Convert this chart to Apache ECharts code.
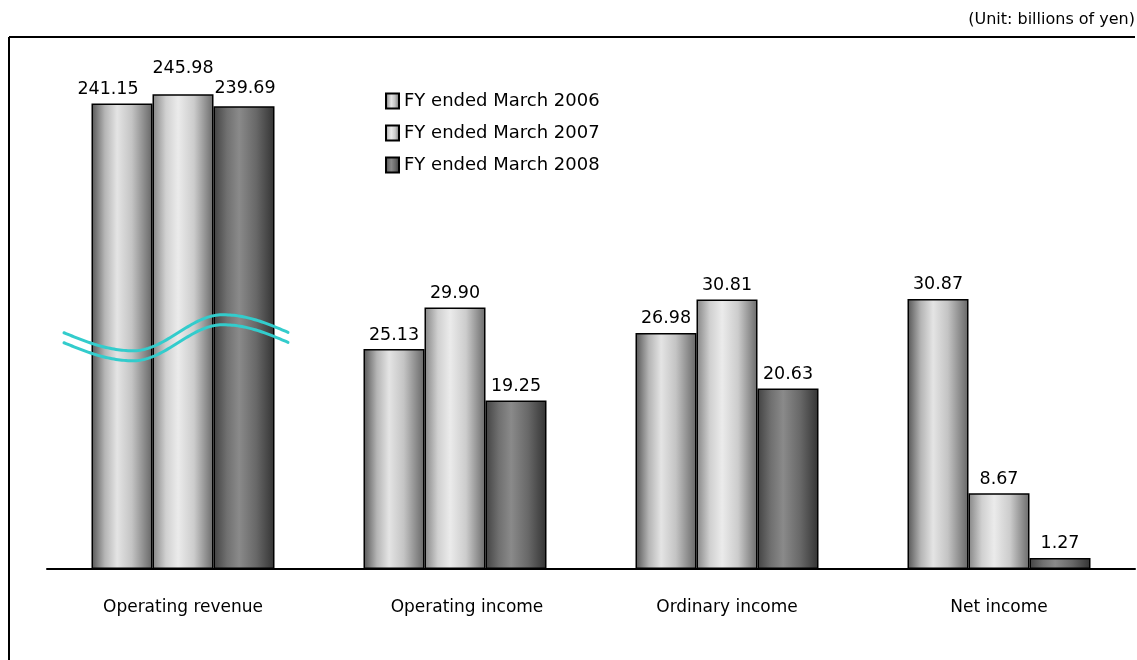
<!DOCTYPE html>
<html><head><meta charset="utf-8">
<script src="https://cdn.jsdelivr.net/npm/echarts@6/dist/echarts.min.js"></script>
<style>html,body{margin:0;padding:0;background:#fff}#c{width:1137px;height:660px}</style>
</head><body><div id="c"></div>
<script>
const categories = ['Operating revenue', 'Operating income', 'Ordinary income', 'Net income'];
const seriesNames = ['FY ended March 2006', 'FY ended March 2007', 'FY ended March 2008'];
const fy2006 = [241.15, 25.13, 26.98, 30.87];
const fy2007 = [245.98, 29.90, 30.81, 8.67];
const fy2008 = [239.69, 19.25, 20.63, 1.27];
const unitText = '(Unit: billions of yen)';

const FONT = 'DejaVu Sans';
const values = [fy2006, fy2007, fy2008];
const gradStops = [
  [['#555555', 0], ['#b5b5b5', 0.22], ['#e4e4e4', 0.42], ['#c4c4c4', 0.66], ['#666666', 1]],
  [['#858585', 0], ['#d0d0d0', 0.22], ['#ebebeb', 0.42], ['#cccccc', 0.68], ['#6a6a6a', 1]],
  [['#424242', 0], ['#707070', 0.22], ['#8a8a8a', 0.42], ['#686868', 0.7], ['#333333', 1]]
];
function grad(i) {
  return new echarts.graphic.LinearGradient(0, 0, 1, 0,
    gradStops[i].map(s => ({ offset: s[1], color: s[0] })));
}
// manual label nudges for the broken (revenue) bars, as in the source figure
const revLabelOffsets = [[-14, 0], [0, -12], [1, -4]];

const labelStyle = {
  show: true, position: 'top', distance: 5, color: '#000',
  fontFamily: FONT, fontSize: 17.5,
  formatter: p => Number(p.value).toFixed(2)
};

const series = [];
values.forEach((vals, i) => {
  const itemStyle = { color: grad(i), borderColor: '#000', borderWidth: 1.5 };
  series.push({
    type: 'bar', name: seriesNames[i], stack: 's' + i, yAxisIndex: 0,
    barWidth: 61, barGap: '0%', itemStyle, label: labelStyle,
    data: vals.map((v, k) => k === 0 ? '-' : v)
  });
  series.push({
    type: 'bar', name: seriesNames[i], stack: 's' + i, yAxisIndex: 1,
    barWidth: 61, barGap: '0%', itemStyle, label: labelStyle,
    data: vals.map((v, k) => k === 0 ? { value: v, label: { offset: revLabelOffsets[i] } } : '-')
  });
});

const chart = echarts.init(document.getElementById('c'), null, { renderer: 'canvas' });
chart.setOption({
  animation: false,
  backgroundColor: '#fff',
  title: {
    text: unitText, right: 0, top: 12, padding: [0, 2, 0, 0],
    textStyle: { fontFamily: FONT, fontSize: 16, fontWeight: 'normal', color: '#000' }
  },
  legend: {
    data: seriesNames, orient: 'vertical', left: 380, top: 86,
    icon: 'rect', itemWidth: 13, itemHeight: 15, itemGap: 12,
    textStyle: { fontFamily: FONT, fontSize: 18, color: '#000', lineHeight: 20 }
  },
  grid: { left: 47, right: 2, top: 44, bottom: 91 },
  xAxis: {
    type: 'category', data: categories,
    axisLine: { lineStyle: { color: '#000', width: 2 } },
    axisTick: { show: false },
    axisLabel: {
      color: '#000', fontFamily: FONT, fontSize: 17, margin: 30, interval: 0,
      formatter: v => v === categories[1] ? '{s|' + v + '}' : v,
      rich: { s: { fontFamily: FONT, fontSize: 17, color: '#000', padding: [0, 0, 0, 24] } }
    }
  },
  yAxis: [
    { type: 'value', min: 0, max: 60, show: false, splitLine: { show: false } },
    { type: 'value', min: 0, max: 272, show: false, splitLine: { show: false } }
  ],
  series
});

// decorative frame and the wavy "axis break" mark over the revenue bars
const cx = chart.convertToPixel({ xAxisIndex: 0 }, categories[0]);
const cy = chart.convertToPixel({ yAxisIndex: 0 }, 27);
function wave(dy) {
  const xs = cx - 119, xMin = cx - 50, xMax = cx + 40, xe = cx + 106, A = 18, c = cy + dy;
  const pts = [];
  for (let x = xs; x <= xe + 0.01; x += 2) {
    let y;
    if (x < xMin) y = c + A * Math.sin(Math.PI / 2 * (x - xs) / (xMin - xs));
    else if (x < xMax) y = c + A * Math.cos(Math.PI * (x - xMin) / (xMax - xMin));
    else y = c - A * Math.cos(Math.PI / 2 * (x - xMax) / (xe - xMax));
    pts.push([x, y]);
  }
  return {
    type: 'polyline', z: 100, silent: true,
    shape: { points: pts },
    style: { stroke: '#33cccc', lineWidth: 3, fill: null, lineCap: 'round' }
  };
}
chart.setOption({
  graphic: [
    { type: 'line', silent: true, shape: { x1: 9, y1: 37, x2: 1135, y2: 37 }, style: { stroke: '#000', lineWidth: 2 } },
    { type: 'line', silent: true, shape: { x1: 9, y1: 37, x2: 9, y2: 660 }, style: { stroke: '#000', lineWidth: 2 } },
    wave(0), wave(10)
  ]
});
</script>
</body></html>
